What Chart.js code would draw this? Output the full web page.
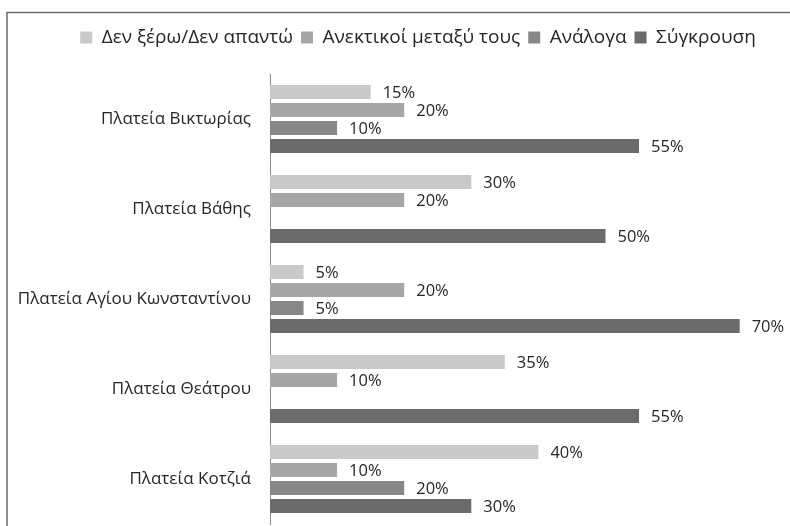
<!DOCTYPE html>
<html>
<head>
<meta charset="utf-8">
<script src="https://cdn.jsdelivr.net/npm/chart.js@4.4.1/dist/chart.umd.min.js"></script>
<style>
  html, body { margin: 0; padding: 0; background: #fff; }
  #wrap { width: 790px; height: 526px; position: relative; }
</style>
</head>
<body>
<div id="wrap"><canvas id="chart"></canvas></div>
<script>
var categories = ['Πλατεία Βικτωρίας', 'Πλατεία Βάθης', 'Πλατεία Αγίου Κωνσταντίνου', 'Πλατεία Θεάτρου', 'Πλατεία Κοτζιά'];
var seriesNames = ['Δεν ξέρω/Δεν απαντώ', 'Ανεκτικοί μεταξύ τους', 'Ανάλογα', 'Σύγκρουση'];
var dontKnow = [15, 30, 5, 35, 40];
var tolerant = [20, 20, 20, 10, 10];
var depends = [10, 0, 5, 0, 20];
var conflict = [55, 50, 70, 55, 30];
var colors = ['#c9c9c9', '#a6a6a6', '#878787', '#6b6b6b'];

var values = [dontKnow, tolerant, depends, conflict];
var datasets = [];
var i;
for (i = 0; i < values.length; i += 1) {
    datasets.push({
        label: seriesNames[i],
        data: values[i],
        backgroundColor: colors[i],
        borderWidth: 0,
        categoryPercentage: 0.8,
        barPercentage: 0.78
    });
}

// frame around the chart, cut off at the right and bottom
var framePlugin = {
    id: 'frame',
    beforeDraw: function (chart) {
        var ctx = chart.ctx;
        ctx.save();
        ctx.strokeStyle = '#6b6b6b';
        ctx.lineWidth = 1.5;
        ctx.strokeRect(7, 12.5, 900, 900);
        ctx.restore();
    }
};

// fixed room for the legend above the plot, legend a bit right of centre
var legendRoom = {
    id: 'legendRoom',
    beforeInit: function (chart) {
        var fit = chart.legend.fit;
        chart.legend.fit = function () {
            fit.call(this);
            this.height = 54;
        };
    },
    afterLayout: function (chart) {
        chart.legend.left += 18;
        chart.legend.right += 18;
    }
};

// percentage labels at the end of each bar
var valueLabels = {
    id: 'valueLabels',
    afterDatasetsDraw: function (chart) {
        var ctx = chart.ctx;
        ctx.save();
        ctx.font = '16.5px "Open Sans", sans-serif';
        ctx.fillStyle = '#262626';
        ctx.textAlign = 'left';
        ctx.textBaseline = 'middle';
        chart.data.datasets.forEach(function (ds, di) {
            chart.getDatasetMeta(di).data.forEach(function (bar, j) {
                var v = ds.data[j];
                if (!v) {
                    return;
                }
                ctx.fillText(v + '%', bar.x + 12, bar.y + 1);
            });
        });
        ctx.restore();
    }
};

new Chart(document.getElementById('chart'), {
    type: 'bar',
    data: { labels: categories, datasets: datasets },
    plugins: [framePlugin, legendRoom, valueLabels],
    options: {
        indexAxis: 'y',
        responsive: true,
        maintainAspectRatio: false,
        animation: false,
        layout: { padding: { top: 20, left: 10, right: 0, bottom: 2 } },
        plugins: {
            legend: {
                position: 'top',
                labels: {
                    boxWidth: 12,
                    boxHeight: 12,
                    padding: 8,
                    color: '#262626',
                    font: { family: '"Open Sans", sans-serif', size: 19 }
                }
            },
            tooltip: { enabled: false }
        },
        scales: {
            x: {
                min: 0,
                max: 77.5,
                display: false,
                grid: { display: false }
            },
            y: {
                afterFit: function (scale) {
                    scale.width = 260;
                    scale.paddingTop = 0;
                    scale.paddingBottom = 0;
                },
                grid: { display: false, drawTicks: false },
                border: { display: true, color: '#8c8c8c', width: 1 },
                ticks: {
                    padding: 19,
                    color: '#262626',
                    font: { family: '"Open Sans", sans-serif', size: 17 }
                }
            }
        }
    }
});
</script>
</body>
</html>
